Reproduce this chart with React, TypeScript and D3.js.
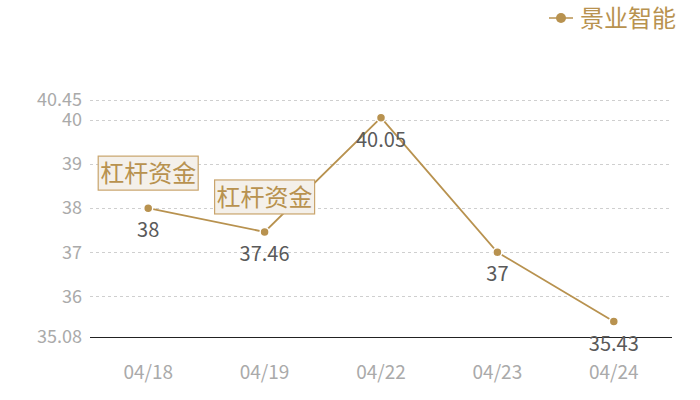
import { useEffect, useRef } from "react"
import * as d3 from "d3"

const dates = ["04/18", "04/19", "04/22", "04/23", "04/24"]
const values = [38, 37.46, 40.05, 37, 35.43]
const yTicks = [35.08, 36, 37, 38, 39, 40, 40.45]
const seriesName = "景业智能"
const markLabel = "杠杆资金"
const markedDates = ["04/18", "04/19"]

const GOLD = "#b8924f"
const FONT = "'Noto Sans CJK SC', 'Noto Sans', sans-serif"

export default function App() {
  const svgRef = useRef<SVGSVGElement>(null)

  useEffect(() => {
    if (!svgRef.current) return
    const svg = d3.select(svgRef.current)
    svg.selectAll("*").remove()

    const width = 700
    const height = 400
    const margin = { top: 100, right: 28, bottom: 63, left: 90 }
    const innerWidth = width - margin.left - margin.right
    const innerHeight = height - margin.top - margin.bottom

    const g = svg.append("g").attr("transform", `translate(${margin.left},${margin.top})`)

    const x = d3.scaleBand().domain(dates).range([0, innerWidth])
    const y = d3
      .scaleLinear()
      .domain([d3.min(yTicks) as number, d3.max(yTicks) as number])
      .range([innerHeight, 0])
    const cx = (d: string) => (x(d) as number) + x.bandwidth() / 2

    // grid lines
    g.selectAll("line.grid")
      .data(yTicks.filter((t) => t !== yTicks[0]))
      .join("line")
      .attr("class", "grid")
      .attr("x1", 0)
      .attr("x2", innerWidth)
      .attr("y1", (d) => Math.round(y(d)) + 0.5)
      .attr("y2", (d) => Math.round(y(d)) + 0.5)
      .attr("stroke", "#cfcfcf")
      .attr("stroke-dasharray", "3,3")

    // y tick labels
    g.selectAll("text.ytick")
      .data(yTicks)
      .join("text")
      .attr("class", "ytick")
      .attr("x", -8)
      .attr("y", (d) => y(d))
      .attr("dy", "0.35em")
      .attr("text-anchor", "end")
      .attr("fill", "#aaaaaa")
      .style("font-family", FONT)
      .style("font-size", "18px")
      .text((d) => String(d))

    // x axis
    g.append("line")
      .attr("x1", 0)
      .attr("x2", innerWidth)
      .attr("y1", innerHeight + 0.5)
      .attr("y2", innerHeight + 0.5)
      .attr("stroke", "#222")
      .attr("stroke-width", 1)

    g.selectAll("text.xtick")
      .data(dates)
      .join("text")
      .attr("class", "xtick")
      .attr("x", (d) => cx(d))
      .attr("y", innerHeight + 35)
      .attr("dy", "0.35em")
      .attr("text-anchor", "middle")
      .attr("fill", "#aaaaaa")
      .style("font-family", FONT)
      .style("font-size", "19px")
      .text((d) => d)

    const data = dates.map((d, i) => ({ date: d, value: values[i] }))

    const line = d3
      .line<{ date: string; value: number }>()
      .x((d) => cx(d.date))
      .y((d) => y(d.value))

    g.append("path")
      .datum(data)
      .attr("fill", "none")
      .attr("stroke", GOLD)
      .attr("stroke-width", 1.8)
      .attr("d", line)

    g.selectAll("circle.pt")
      .data(data)
      .join("circle")
      .attr("class", "pt")
      .attr("cx", (d) => cx(d.date))
      .attr("cy", (d) => y(d.value))
      .attr("r", 4.5)
      .attr("fill", GOLD)
      .attr("stroke", "#fff")
      .attr("stroke-width", 1.5)

    g.selectAll("text.val")
      .data(data)
      .join("text")
      .attr("class", "val")
      .attr("x", (d) => cx(d.date))
      .attr("y", (d) => y(d.value) + 22)
      .attr("dy", "0.35em")
      .attr("text-anchor", "middle")
      .attr("fill", "#5a5a5a")
      .style("font-family", FONT)
      .style("font-size", "20px")
      .text((d) => String(d.value))

    // mark boxes
    const marks = data.filter((d) => markedDates.includes(d.date))
    const boxW = 100
    const boxH = 34
    const mg = g
      .selectAll("g.mark")
      .data(marks)
      .join("g")
      .attr("class", "mark")
      .attr("transform", (d) => `translate(${cx(d.date)},${y(d.value) - 18 - boxH / 2})`)
    mg.append("rect")
      .attr("x", -boxW / 2)
      .attr("y", -boxH / 2)
      .attr("width", boxW)
      .attr("height", boxH)
      .attr("fill", "#f4f0ea")
      .attr("stroke", "#c9a46c")
      .attr("stroke-width", 1.2)
    mg.append("text")
      .attr("text-anchor", "middle")
      .attr("dy", "0.36em")
      .attr("fill", GOLD)
      .style("font-family", FONT)
      .style("font-size", "24px")
      .text(markLabel)

    // legend
    const lg = svg.append("g").attr("transform", `translate(561,18)`)
    lg.append("line").attr("x1", -12).attr("x2", 12).attr("stroke", GOLD).attr("stroke-width", 1.5)
    lg.append("circle").attr("r", 5).attr("fill", GOLD)
    lg.append("text")
      .attr("x", 19)
      .attr("dy", "0.36em")
      .attr("fill", GOLD)
      .style("font-family", FONT)
      .style("font-size", "24px")
      .text(seriesName)
  }, [])

  return (
    <svg
      ref={svgRef}
      width={700}
      height={400}
      style={{ position: "absolute", left: 0, top: 0, background: "#fff" }}
    />
  )
}
